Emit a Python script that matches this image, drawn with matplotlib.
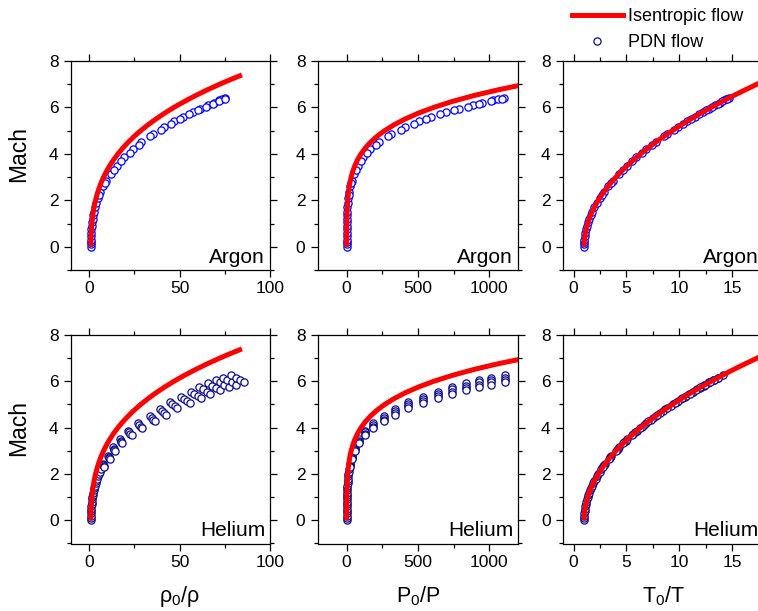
import matplotlib

matplotlib.use("Agg")
import matplotlib.pyplot as plt
from matplotlib.lines import Line2D
from matplotlib.ticker import MultipleLocator

plt.rcParams["font.family"] = ["Liberation Sans", "DejaVu Sans"]
plt.rcParams["mathtext.fontset"] = "custom"
plt.rcParams["mathtext.rm"] = "Liberation Sans"
plt.rcParams["mathtext.default"] = "regular"

# isentropic flow curve (same Mach grid for all three ratios)
isen_mach = [0, 0.25, 0.5, 0.75, 1.0, 1.25, 1.5, 1.75, 2.0, 2.25, 2.5, 2.75, 3.0,
             3.25, 3.5, 3.75, 4.0, 4.25, 4.5, 4.75, 5.0, 5.25, 5.5, 5.75, 6.0,
             6.25, 6.5, 6.75, 7.0, 7.2, 7.4]
isen_rho = [1.0, 1.031, 1.128, 1.294, 1.540, 1.876, 2.315, 2.873, 3.564, 4.406,
            5.414, 6.606, 8.0, 9.612, 11.46, 13.56, 15.94, 18.60, 21.58, 24.87,
            28.51, 32.52, 36.90, 41.68, 46.87, 52.50, 58.58, 65.13, 72.16, 78.16,
            84.48]
isen_p = [1.0, 1.053, 1.222, 1.537, 2.053, 2.852, 4.051, 5.805, 8.316, 11.84,
          16.69, 23.26, 32.0, 43.46, 58.26, 77.15, 100.9, 130.6, 167.2, 211.9,
          266.1, 331.3, 409.0, 501.0, 609.3, 736.1, 883.6, 1054.3, 1250.8,
          1428.7, 1626.5]
isen_t = [1.0, 1.021, 1.083, 1.188, 1.333, 1.521, 1.75, 2.021, 2.333, 2.688,
          3.083, 3.521, 4.0, 4.521, 5.083, 5.688, 6.333, 7.021, 7.75, 8.521,
          9.333, 10.19, 11.08, 12.02, 13.0, 14.02, 15.08, 16.19, 17.33, 18.28,
          19.25]

# PDN flow, argon
ar_mach = [0.0, 0.1, 0.2, 0.3, 0.45, 0.6, 0.75, 0.9, 1.05, 1.2, 1.35, 1.5, 1.7,
           1.9, 2.1, 2.35, 2.6, 2.85, 3.15, 3.5, 3.85, 4.2, 4.5, 4.85, 5.15, 5.4,
           5.6, 5.8, 5.95, 6.1, 6.2, 6.3, 6.35, 6.4,
           2.25, 2.75, 3.3, 3.7, 4.05, 4.4, 4.75, 5.05, 5.3, 5.5, 5.7, 5.88, 6.03,
           6.15, 6.26, 6.36]
ar_rho = [1.0, 1.0, 1.02, 1.05, 1.11, 1.2, 1.32, 1.48, 1.68, 1.93, 2.24, 2.6, 3.2,
          3.95, 4.8, 6.1, 7.6, 9.4, 11.9, 15.3, 19.4, 24.2, 28.9, 35.2, 41.4, 47.0,
          51.9, 57.2, 61.4, 65.8, 68.8, 71.9, 73.5, 75.2,
          5.73, 8.99, 13.5, 17.8, 22.4, 27.7, 33.8, 39.8, 45.4, 50.2, 55.3, 60.3,
          64.6, 68.3, 71.7, 75.0]
ar_p = [1.0, 1.003, 1.033, 1.08, 1.18, 1.34, 1.57, 1.88, 2.30, 2.86, 3.60, 4.55,
        6.28, 8.70, 11.9, 17.3, 24.7, 34.9, 51.3, 77.8, 115, 166, 224, 311, 407,
        504, 594, 699, 786, 882, 950, 1023, 1061, 1102,
        15.4, 31.6, 62.7, 99.3, 144.8, 206, 288, 378, 470, 556, 655, 755, 848,
        929, 1009, 1086]
ar_t = [1.0, 1.003, 1.013, 1.03, 1.068, 1.12, 1.188, 1.27, 1.368, 1.48, 1.608,
        1.75, 1.963, 2.203, 2.47, 2.841, 3.253, 3.708, 4.308, 5.083, 5.941, 6.88,
        7.75, 8.841, 9.841, 10.72, 11.45, 12.21, 12.80, 13.40, 13.81, 14.23,
        14.44, 14.65,
        2.688, 3.521, 4.63, 5.563, 6.468, 7.453, 8.521, 9.501, 10.36, 11.08,
        11.83, 12.53, 13.12, 13.61, 14.06, 14.48]

# PDN flow, helium (low-Mach stack, then groups of four overlapping runs)
he_mach = [0.0, 0.1, 0.2, 0.3, 0.4, 0.5, 0.6, 0.7, 0.8, 0.9, 1.0, 1.1, 1.2, 1.3,
           1.4, 1.5, 1.6, 1.7, 1.8, 1.9, 2.0, 2.1, 2.2,
           2.42, 2.38, 2.34, 2.30,
           2.78, 2.73, 2.69, 2.64,
           3.15, 3.10, 3.04, 2.99,
           3.50, 3.44, 3.38, 3.32,
           3.87, 3.80, 3.74, 3.67,
           4.18, 4.11, 4.04, 3.97,
           4.50, 4.42, 4.35, 4.27,
           4.80, 4.72, 4.64, 4.56,
           5.12, 5.03, 4.95, 4.86,
           5.34, 5.25, 5.16, 5.07,
           5.55, 5.46, 5.36, 5.27,
           5.76, 5.66, 5.56, 5.47,
           5.92, 5.82, 5.72, 5.62,
           6.05, 5.95, 5.84, 5.74,
           6.16, 6.06, 5.95, 5.85,
           6.27, 6.16, 6.06, 5.98]
he_rho = [1.0, 1.005, 1.03, 1.07, 1.12, 1.20, 1.29, 1.41, 1.54, 1.69, 1.88, 2.09,
          2.34, 2.62, 2.91, 3.24, 3.58, 3.96, 4.38, 4.81, 5.27, 5.78, 6.34,
          7.70, 7.87, 8.05, 8.23,
          10.50, 10.78, 11.01, 11.30,
          13.20, 13.53, 13.93, 14.29,
          16.90, 17.37, 17.87, 18.38,
          21.50, 22.16, 22.74, 23.46,
          27.00, 27.79, 28.61, 29.47,
          33.50, 34.56, 35.52, 36.68,
          39.00, 40.17, 41.40, 42.68,
          44.50, 45.93, 47.26, 48.83,
          51.00, 52.59, 54.26, 56.00,
          56.50, 58.21, 60.19, 62.06,
          61.00, 62.98, 65.07, 67.03,
          66.00, 68.10, 70.30, 72.61,
          70.00, 72.19, 74.71, 77.12,
          74.00, 76.28, 78.90, 81.40,
          78.50, 81.12, 83.62, 85.70]
he_p = [1.0, 1.008, 1.04, 1.10, 1.18, 1.30, 1.44, 1.64, 1.87, 2.15, 2.51, 2.93,
        3.46, 4.10, 4.81, 5.67, 6.63, 7.77, 9.11, 10.60, 12.30, 14.28, 16.57,
        22.7, 22.7, 22.7, 22.7,
        37.6, 37.6, 37.6, 37.6,
        56.9, 56.9, 56.9, 56.9,
        85.9, 85.9, 85.9, 85.9,
        128.8, 128.8, 128.8, 128.8,
        184.3, 184.3, 184.3, 184.3,
        259.6, 259.6, 259.6, 259.6,
        338.5, 338.5, 338.5, 338.5,
        433.3, 433.3, 433.3, 433.3,
        535.8, 535.8, 535.8, 535.8,
        636.6, 636.6, 636.6, 636.6,
        735.6, 735.6, 735.6, 735.6,
        837.0, 837.0, 837.0, 837.0,
        924.1, 924.1, 924.1, 924.1,
        1010.0, 1010.0, 1010.0, 1010.0,
        1107.2, 1107.2, 1107.2, 1107.2]
he_t = [1.0, 1.003, 1.013, 1.03, 1.053, 1.083, 1.12, 1.163, 1.213, 1.27, 1.333,
        1.403, 1.48, 1.563, 1.653, 1.75, 1.853, 1.963, 2.08, 2.203, 2.333, 2.47,
        2.613,
        2.952, 2.888, 2.825, 2.763,
        3.576, 3.484, 3.412, 3.323,
        4.308, 4.203, 4.081, 3.980,
        5.083, 4.945, 4.808, 4.674,
        5.992, 5.813, 5.663, 5.490,
        6.824, 6.631, 6.441, 6.254,
        7.750, 7.512, 7.308, 7.078,
        8.680, 8.426, 8.177, 7.931,
        9.738, 9.434, 9.168, 8.873,
        10.51, 10.19, 9.875, 9.568,
        11.27, 10.94, 10.58, 10.26,
        12.06, 11.68, 11.31, 10.97,
        12.68, 12.29, 11.91, 11.53,
        13.20, 12.80, 12.37, 11.98,
        13.65, 13.24, 12.80, 12.41,
        14.10, 13.65, 13.24, 12.92]

ISEN_COLOR = "#ff0000"
AR_COLOR = "#0000ff"
HE_COLOR = "#0c0c8a"

fig = plt.figure(figsize=(7.58, 6.11), dpi=100)

W, H = 758.0, 611.0
col_left = [71, 318, 563]
col_width = [199, 200, 201]
row_top = [61, 335]
row_height = [209, 208.5]

xlims = [(-10, 100), (-200, 1200), (-1, 18)]
xmajor = [50, 500, 5]
xminor = [25, 250, 2.5]
xlabels = ["ρ$_0$/ρ", "P$_0$/P", "T$_0$/T"]
xlabel_pos = [0.545, 0.5, 0.5]

isen_x = [isen_rho, isen_p, isen_t]
gases = [
    ("Argon", AR_COLOR, ar_mach, [ar_rho, ar_p, ar_t]),
    ("Helium", HE_COLOR, he_mach, [he_rho, he_p, he_t]),
]

for r, (gas, color, mach, ratios) in enumerate(gases):
    for c in range(3):
        left = col_left[c] / W
        bottom = 1 - (row_top[r] + row_height[r]) / H
        ax = fig.add_axes([left, bottom, col_width[c] / W, row_height[r] / H])

        ax.plot(ratios[c], mach, ls="none", marker="o", ms=5.2, mew=0.9,
                mec=color, mfc="white", zorder=2)
        ax.plot(isen_x[c], isen_mach, color=ISEN_COLOR, lw=3.6, zorder=3,
                solid_capstyle="butt")

        ax.set_xlim(*xlims[c])
        ax.set_ylim(-1, 8)
        ax.xaxis.set_major_locator(MultipleLocator(xmajor[c]))
        ax.xaxis.set_minor_locator(MultipleLocator(xminor[c]))
        ax.yaxis.set_major_locator(MultipleLocator(2))
        ax.yaxis.set_minor_locator(MultipleLocator(1))
        ax.tick_params(which="both", direction="out", top=True, right=True,
                       labelsize=12.5, width=0.9, color="black")
        ax.tick_params(which="major", length=5)
        ax.tick_params(which="minor", length=3)
        ax.tick_params(axis="x", pad=3)
        ax.tick_params(axis="y", pad=4)
        for sp in ax.spines.values():
            sp.set_linewidth(0.9)

        ax.text(0.975, 0.035, gas, transform=ax.transAxes, ha="right",
                va="baseline", fontsize=15)

        if c == 0:
            ax.set_ylabel("Mach", fontsize=16.5)
            ax.yaxis.set_label_coords(-0.205, 5 / 9)
        if r == 1:
            ax.set_xlabel(xlabels[c], fontsize=15.5)
            ax.xaxis.set_label_coords(xlabel_pos[c], -0.195)

handles = [
    Line2D([], [], color=ISEN_COLOR, lw=3.6),
    Line2D([], [], ls="none", marker="o", ms=5.2, mew=0.9, mec=HE_COLOR,
           mfc="white"),
]
fig.legend(handles, ["Isentropic flow", "PDN flow"], loc="upper left",
           bbox_to_anchor=(572 / W, 1 - 8 / H), frameon=False, fontsize=13,
           handlelength=2.8, handletextpad=0.3, labelspacing=0.5,
           borderpad=0, borderaxespad=0)

fig.savefig("out.png", dpi=100)
